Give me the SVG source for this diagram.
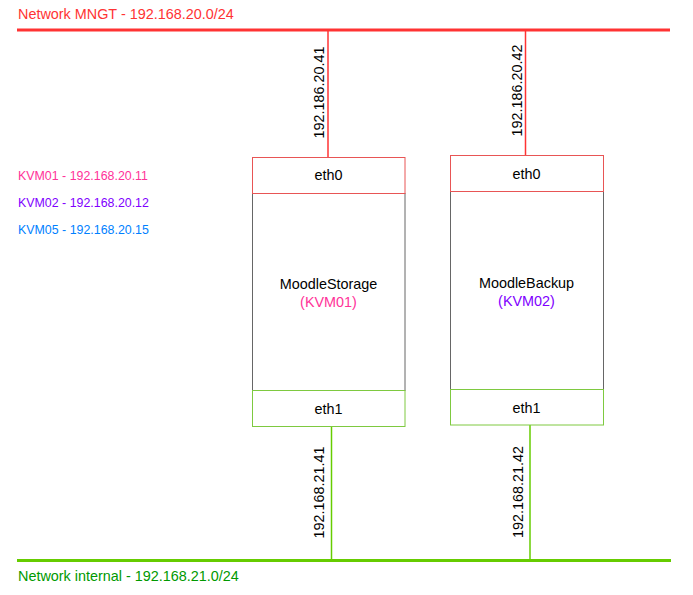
<svg xmlns="http://www.w3.org/2000/svg" width="693" height="595" viewBox="0 0 693 595">
<style>
text{font-family:"Liberation Sans",Arial,sans-serif;font-size:14.4px;fill:#000}
.c{text-anchor:middle}
.sm{font-size:12.4px}
.body{fill:#fff;stroke:#666;stroke-width:1}
.e0{fill:#fff;stroke:#E85555;stroke-width:1}
.e1{fill:#fff;stroke:#7EC940;stroke-width:1}
.red{stroke:#FF3333;fill:none}
.grn{stroke:#66CC00;fill:none}
</style>
<rect width="693" height="595" fill="#fff"/>
<g id="connectors">
<line class="red" x1="328" y1="30" x2="328" y2="157" stroke-width="1.5"/>
<line class="red" x1="525.5" y1="30" x2="525.5" y2="155.5" stroke-width="1.5"/>
<line class="grn" x1="331.5" y1="427" x2="331.5" y2="560" stroke-width="1.5"/>
<line class="grn" x1="530" y1="425" x2="530" y2="560" stroke-width="1.5"/>
<text class="c" transform="translate(323.5,92.5) rotate(-90)">192.186.20.41</text>
<text class="c" transform="translate(522,90.5) rotate(-90)">192.186.20.42</text>
<text class="c" transform="translate(323.5,492.5) rotate(-90)">192.168.21.41</text>
<text class="c" transform="translate(522.5,492) rotate(-90)">192.168.21.42</text>
</g>
<g id="net-mngt">
<line class="red" x1="17" y1="30" x2="670" y2="30" stroke-width="3"/>
<text x="18" y="19" style="fill:#FF3333">Network MNGT - 192.168.20.0/24</text>
</g>
<g id="net-internal">
<line class="grn" x1="17" y1="560.5" x2="671" y2="560.5" stroke-width="3"/>
<text x="18" y="581" style="fill:#009900">Network internal - 192.168.21.0/24</text>
</g>
<g id="legend">
<text class="sm" x="18" y="180" style="fill:#FF3399">KVM01 - 192.168.20.11</text>
<text class="sm" x="18" y="207" style="fill:#7F00FF">KVM02 - 192.168.20.12</text>
<text class="sm" x="18" y="234" style="fill:#007FFF">KVM05 - 192.168.20.15</text>
</g>
<g id="moodle-storage">
<rect class="body" x="252.5" y="193.5" width="152.5" height="197"/>
<rect class="e0" x="252.5" y="157.5" width="152.5" height="36"/>
<rect class="e1" x="252.5" y="390.5" width="152.5" height="36"/>
<text class="c" x="328.5" y="180">eth0</text>
<text class="c" x="328.5" y="288.5">MoodleStorage</text>
<text class="c" x="328.5" y="306.5" style="fill:#FF3399">(KVM01)</text>
<text class="c" x="328.5" y="414">eth1</text>
</g>
<g id="moodle-backup">
<rect class="body" x="450.5" y="191.5" width="153" height="198"/>
<rect class="e0" x="450.5" y="155.5" width="153" height="36"/>
<rect class="e1" x="450.5" y="389.5" width="153" height="35.5"/>
<text class="c" x="526.5" y="178.5">eth0</text>
<text class="c" x="526.5" y="288">MoodleBackup</text>
<text class="c" x="526.5" y="305.5" style="fill:#7F00FF">(KVM02)</text>
<text class="c" x="526.5" y="412.5">eth1</text>
</g>
</svg>
